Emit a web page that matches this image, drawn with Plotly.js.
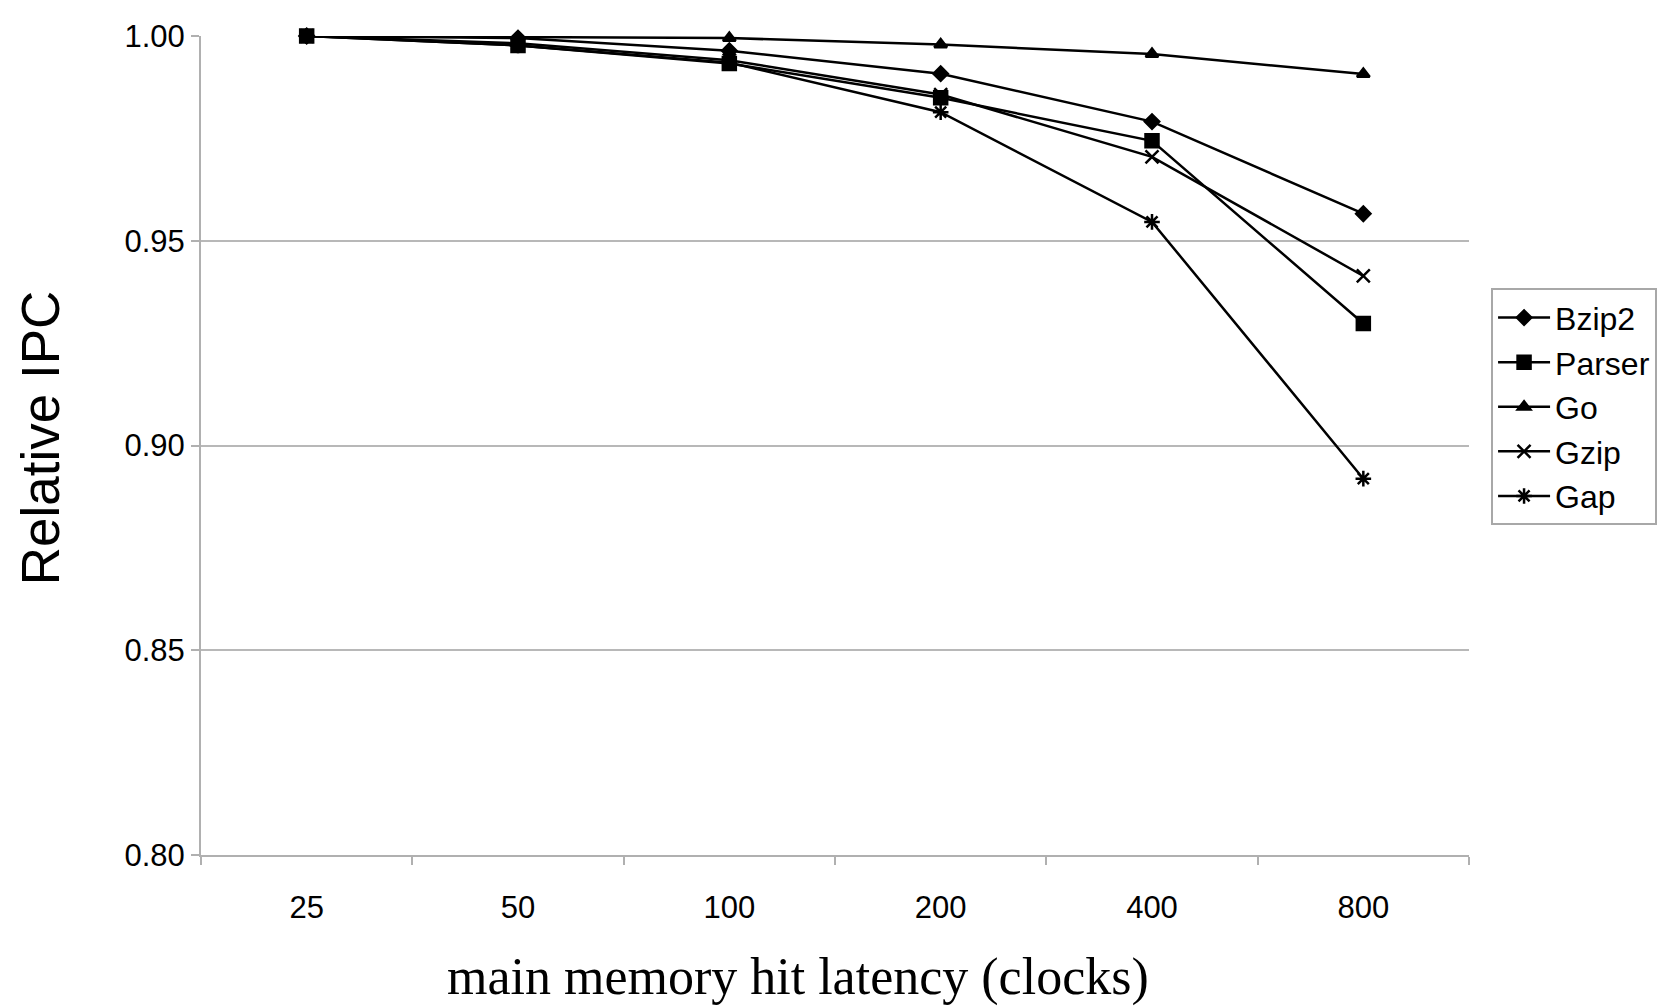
<!DOCTYPE html>
<html>
<head>
<meta charset="utf-8">
<script src="https://cdn.plot.ly/plotly-3.0.1.min.js"></script>
<style>
html,body{margin:0;padding:0;background:#fff;}
#chart{width:1658px;height:1008px;}
</style>
</head>
<body>
<div id="chart"></div>
<script>
const categories = ["25", "50", "100", "200", "400", "800"];
const bzip2  = [1.000, 0.9995, 0.9964, 0.9908, 0.9791, 0.9566];
const parser = [1.000, 0.9977, 0.9933, 0.9849, 0.9744, 0.9298];
const go     = [1.000, 0.9997, 0.9995, 0.9979, 0.9956, 0.9907];
const gzip   = [1.000, 0.9982, 0.9941, 0.9857, 0.9705, 0.9414];
const gap    = [1.000, 0.9977, 0.9935, 0.9814, 0.9546, 0.8919];
const seriesNames = ["Bzip2", "Parser", "Go", "Gzip", "Gap"];
const yTicks = [0.80, 0.85, 0.90, 0.95, 1.00];
const xTitle = "main memory hit latency (clocks)";
const yTitle = "Relative IPC";

const seriesValues = [bzip2, parser, go, gzip, gap];
const symbols = ["diamond", "square", "triangle-up", "x-thin-open", "asterisk-open"];
const sizes = [11, 13, 11, 13, 13];

const traces = seriesNames.map((name, i) => ({
  type: "scatter",
  mode: "lines+markers",
  name: name,
  x: categories,
  y: seriesValues[i],
  line: {color: "#000", width: 2.5},
  marker: {symbol: symbols[i], size: sizes[i], color: "#000",
           line: {color: "#000", width: 2.5}},
  cliponaxis: false
}));

const layout = {
  width: 1658, height: 1008,
  paper_bgcolor: "#fff", plot_bgcolor: "#fff",
  margin: {l: 201, r: 189, t: 36, b: 153, autoexpand: false},
  font: {family: "Liberation Sans, Arial, sans-serif", color: "#000", size: 31},
  showlegend: true,
  legend: {
    x: 1.0174, y: 0.692, xanchor: "left", yanchor: "top",
    bgcolor: "#fff", bordercolor: "#a8a8a8", borderwidth: 2,
    font: {family: "Liberation Sans, Arial, sans-serif", size: 32, color: "#000"},
    itemwidth: 52
  },
  xaxis: {
    type: "category",
    range: [-0.5, 5.5],
    tickson: "boundaries",
    ticks: "outside", ticklen: 8, tickwidth: 2, tickcolor: "#b0b0b0",
    showline: true, linecolor: "#b0b0b0", linewidth: 2,
    showgrid: false, zeroline: false,
    ticklabelstandoff: 24,
    tickfont: {size: 31},
    automargin: false
  },
  yaxis: {
    range: [0.80, 1.00],
    tickvals: yTicks,
    ticktext: yTicks.map(v => v.toFixed(2)),
    ticks: "outside", ticklen: 8, tickwidth: 2, tickcolor: "#b0b0b0",
    showline: true, linecolor: "#b0b0b0", linewidth: 2,
    showgrid: true, gridcolor: "#b8b8b8", gridwidth: 2,
    zeroline: false,
    tickfont: {size: 31},
    automargin: false
  },
  annotations: [
    {text: xTitle, xref: "paper", yref: "paper", x: 0.471, y: -0.149,
     xanchor: "center", yanchor: "middle", showarrow: false,
     font: {family: "Liberation Serif, Times New Roman, serif", size: 52, color: "#000"}},
    {text: yTitle, xref: "paper", yref: "paper", x: -0.127, y: 0.51,
     xanchor: "center", yanchor: "middle", showarrow: false, textangle: -90,
     font: {family: "Liberation Sans, Arial, sans-serif", size: 53, color: "#000"}}
  ]
};

Plotly.newPlot("chart", traces, layout, {staticPlot: true});
</script>
</body>
</html>
